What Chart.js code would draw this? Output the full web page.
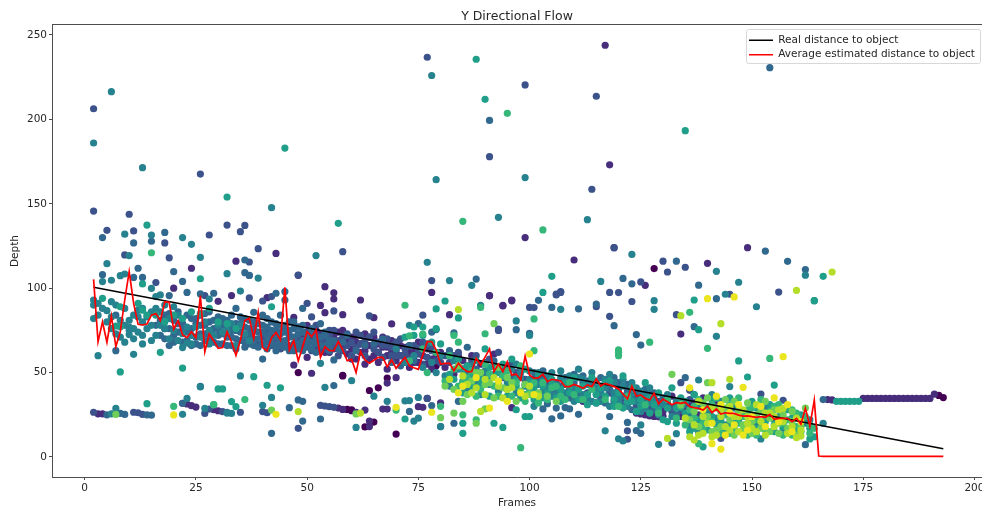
<!DOCTYPE html>
<html>
<head>
<meta charset="utf-8">
<style>
	html, body { margin: 0; padding: 0; background: #fff; }
	#chart { display: block; }
</style>
<script src="https://cdn.jsdelivr.net/npm/chart.js@4"></script>
</head>
<body>
<canvas id="chart" width="982" height="510"></canvas>
<script>
const real_frames = [2, 193];
const real_depth = [100.5, 4.9];

// average estimate for frames 2, 3, 4 ... 193
const first_est_frame = 2;
const est_depth = [
	105.2, 68.3, 80, 68, 83.5, 65.4, 74.2, 93, 109.8, 91, 78.6, 78.2, 78.8, 84, 85, 80.8, 92, 91.6, 75.8, 80.8,
	72.3, 70.7, 74.2, 70.7, 95.6, 62.4, 72.9, 68.9, 64.4, 64.8, 74.2, 68.3, 60.2, 69.3, 80.8, 82.2, 70.3, 85.7, 64.8, 62.8,
	70.7, 73.8, 69.3, 100.5, 63.4, 68.9, 56.9, 65.4, 74.2, 71.3, 75.2, 59, 65.4, 63, 63, 68.3, 63.4, 57, 57.8, 50,
	62.4, 57.5, 55.5, 57.3, 59, 59, 53.5, 57.5, 52.5, 55.9, 59, 54, 52.9, 51.9, 60.4, 68.3, 68.3, 63.4, 55, 55.5,
	55.5, 51, 55.5, 52.5, 50.6, 50.6, 58.5, 54.5, 59.2, 64, 50.6, 55, 50.6, 56.5, 48.6, 49, 45.6, 59.8, 48.6, 46.6,
	47, 49, 44.6, 46, 45.6, 45, 41.7, 41.7, 43, 42, 40.7, 42.7, 41.7, 46.2, 42, 43.6, 42.7, 41.7, 40.3, 37.3,
	34.4, 42, 36, 36.7, 34.7, 33.7, 37.7, 31.4, 34.3, 32.7, 31, 32.2, 31.8, 32.4, 29.8, 29.2, 28.8, 27.8, 30.2, 26.2,
	28.4, 25.4, 26.2, 25.8, 25.8, 24.8, 24.2, 24.4, 23.9, 23.5, 23.9, 23.5, 25.2, 22.3, 22.9, 22.9, 22.9, 20.9, 22.9, 19.5,
	28.8, 18.3, 33.7, 0.6, 0.4, 0.4, 0.4, 0.4, 0.4, 0.4, 0.4, 0.4, 0.4, 0.4, 0.4, 0.4, 0.4, 0.4, 0.4, 0.4,
	0.4, 0.4, 0.4, 0.4, 0.4, 0.4, 0.4, 0.4, 0.4, 0.4, 0.4, 0.4
];

// flow samples [frame, depth], one list per colour step of the map
const shade_0 = [
	[128,111.6],[48,50],[58,48.4],[58,48],[59,28.2],[60,28],[70,13.6],[63,17.8],[65,20.7],[68,46.8],[192,36.5],[193,35.2],
	[66,41],[64,39.4],[60,27.4],[79,54]
];
const shade_1 = [
	[117,243.9],[118,173.1],[99,130],[119,124],[110,116.7],[91,95.6],[96,93],[94,89.9],[78,97.5],[82,84.3],[134,72.8],[140,114.7],
	[149,124],[126,101.7],[43,120.6],[34,116],[24,111.8],[48,107.6],[20,100],[54,100.9],[56,97.3],[56,93.6],[33,95.6],[41,94.4],
	[30,92.2],[53,89.8],[54,85.5],[58,84.3],[47,82.7],[47,54.5],[51,49.6],[50,59],[3,25.6],[4,25.6],[22,31.8],[23,31.4],[24,30.4],
	[25,29.6],[29,28],[30,27.4],[57,29],[58,28.2],[63,27.8],[64,21.3],[64,18],[67,28.4],[68,28.4],[75,29.8],[76,29.4],[80,32],
	[77,34.7],[62,93],[91,95.5],[94,89.5],[96,92.5],[65,82.5],[69,78.8],[70,47],[66,62],[68,43.8],[61,26.5],[96,29.2],[124,26],
	[126,25],[127,24.3],[128,24],[130,24.2],[125,25.5],[129,23.8],[191,37.2],[175,34.7],[176,34.7],[177,34.7],[178,34.7],[179,34.7],[180,34.7],
	[181,34.7],[182,34.7],[183,34.7],[184,34.7],[185,34.7],[186,34.7],[187,34.7],[188,34.7],[189,34.7],[190,34.7],[167,34],[168,33.8],
	[50,78],[52,66],[53,73],[54,62],[55,70],[56,64],[57,74],[58,66],[59,61],[60,71],[60,64],[61,58],[61,68],[62,62],[63,73],[63,55],
	[64,66],[65,60],[65,71],[66,56],[67,65],[68,60],[68,52],[69,69],[70,63],[70,57],[71,66],[72,59],[73,53],[74,62],[75,68],[75,56],
	[76,60],[77,64],[78,52],[78,58],[80,62],[81,53],[83,49],[85,57],[87,60],[89,55],[92,61],[133,32],[135,27],[137,32],[139,35],[142,31],
	[128,33],[130,27],[132,36],[127,30],[110,35],[112,33],[108,36],
	[49,72],[51,70],[52,75],[54,68],[55,62],[56,72],[57,67],[58,75],[59,69],[60,58],[61,72],[62,67],[63,63],[64,58],[64,71],[66,67],[67,59],[67,71],
	[68,65],[69,62],[71,60],[72,65],[73,62],[74,56],[76,65],[77,55],[79,60],[84,60],[134,24],[136,30],[138,25],[140,28]
];
const shade_2 = [
	[77,236.8],[99,220.4],[115,213.7],[91,177.9],[114,158.6],[2,206.3],[26,167.6],[10,143.8],[2,145.7],[11,133.9],[5,134.3],[28,131.5],
	[32,137.4],[36,137.2],[35,133.5],[18,126.8],[39,123.4],[9,119.7],[19,118],[58,121.6],[37,115.5],[48,107.8],[37,107.5],[16,103.3],
	[27,95.6],[37,94.2],[40,92.4],[42,95],[56,86.5],[51,83],[50,91],[2,26.5],[11,26.5],[12,26.2],[13,25.2],[27,25.8],[28,28.4],[31,26.9],
	[35,26.5],[40,26.9],[41,26.2],[48,17],[53,30.6],[54,30.2],[55,29.8],[56,29.4],[78,104.5],[77,34.7],[93,75.8],[106,96.5],[107,98],
	[118,97.5],[100,88.6],[118,83.3],[119,124],[120,97.4],[123,92.1],[125,103.7],[130,116],[131,109.6],[135,112.4],[133,84.3],[145,96.4],
	[156,97.7],[120,37],[122,15.5],[122,10.5],[101,88.5],[106,96],[107,97.5],[115,89],[64,83.6],[76,84],[136,39.5],[152,37.3],[157,33.6],
	[143,11],[134,44],[93,75],[100,73],[69,66],
	[38,76],[40,71],[42,66],[44,74],[46,66],[48,70],[50,66],[52,72],[53,63],[54,69],[55,75],[56,66],[57,60],[58,71],[59,66],[60,60],
	[61,74],[62,67],[63,60],[64,71],[65,64],[66,68],[67,59],[68,66],[69,60],[70,68],[71,60],[72,64],[73,58],[74,66],[75,61],[76,55],
	[77,59],[78,63],[79,57],[81,60],[82,56],[84,62],[86,54],[88,60],[90,56],[93,62],[95,54],[97,50],[101,46],[104,43],[107,42],
	[110,39],[113,38],[116,35],[119,33],[122,36],[125,30],[127,28],[131,32],[134,28],[136,34],
	[39,69],[41,76],[43,70],[44,64],[45,77],[46,72],[47,64],[48,77],[49,66],[50,74],[51,63],[52,78],[53,68],[54,64],[55,72],[56,75],[57,69],[58,63],[59,73],
	[60,68],[61,65],[62,72],[63,69],[65,74],[66,62],[67,66],[68,70],[69,65],[70,60],[71,70],[72,61],[73,66],[74,59],[75,64],[76,68],[78,66],[80,56],[83,60],
	[85,52],[87,57],[89,50],[91,58],[94,47],[96,55],[99,46],[103,47],[106,38],[109,40],[112,44],[115,32],[118,38],[121,34],[124,31],[126,36],[129,33],[132,27],[135,24]
];
const shade_3 = [
	[154,230.6],[91,199.4],[15,127.8],[11,126.8],[18,133],[4,130],[12,111.8],[20,109.8],[36,116.7],[36,109.2],[37,107.6],[4,108],[11,106.4],
	[13,106.4],[22,104],[23,97.5],[26,96.6],[29,97],[19,95.6],[43,97],[45,98],[45,93],[34,88],[38,85.7],[49,88],[44,84],[7,84],[7,63],[40,58],
	[56,57.5],[26,41.9],[56,42.3],[22,31.8],[5,25],[8,25.8],[9,25.2],[14,25],[15,24.8],[32,26.5],[46,29.2],[48,33.8],[49,33],[49,21.3],[42,14],
	[53,22.5],[88,105.4],[102,92.8],[105,88.6],[111,87.8],[115,90.6],[119,77.8],[97,75.4],[100,73.2],[83,73.5],[78,74],[75,79],[79,75.5],
	[133,116],[153,122],[158,115.9],[162,111],[121,105.8],[123,102.6],[138,101.8],[142,93.8],[124,72.5],[125,66.3],[137,77.2],[78,30.5],[80,18],
	[83,20],[73,27],[84,33],[103,28.5],[104,31.6],[105,22.6],[106,29],[107,24.3],[108,29.3],[109,28.5],[111,25.3],[118,24],[122,20.5],[124,15.7],
	[132,8.3],[125,14],[162,7.3],[166,34],[135,47],[85,52],
	[16,78],[17,72],[18,84],[18,70],[19,76],[20,81],[20,68],[21,74],[22,79],[23,84],[23,69],[24,76],[25,82],[25,71],[26,78],[26,66],[27,85],
	[27,73],[28,80],[28,69],[29,76],[30,83],[30,72],[31,78],[31,67],[32,81],[32,71],[33,75],[33,66],[34,79],[34,70],[35,83],[35,74],[36,77],
	[36,68],[37,81],[37,72],[38,75],[38,66],[39,79],[39,70],[40,84],[40,74],[41,77],[41,68],[42,80],[42,71],[43,75],[43,66],[44,78],[44,69],
	[45,74],[45,65],[46,80],[46,71],[47,76],[47,67],[48,73],[48,64],[49,78],[49,69],[50,72],[50,65],[51,76],[51,68],[52,70],[53,79],[54,74],
	[55,66],[57,67],[59,72],[61,63],[63,66],[65,67],[67,70],[69,56],[71,54],[73,66],[74,57],[77,67],[79,62],[82,63],[84,58],[86,65],[88,52],
	[90,49],[92,57],[94,52],[96,47],[98,53],[100,41],[102,46],[103,51],[105,40],[106,44],[108,47],[109,35],[110,44],[111,38],[112,48],[113,34],
	[114,42],[115,37],[116,47],[117,32],[118,40],[119,36],[120,44],[121,31],[122,39],[123,28],[124,35],[126,33],[127,37],[128,28],[129,30],
	[130,35],[132,29],[133,25],[135,31],[137,24],
	[17,81],[18,76],[19,85],[19,66],[20,72],[21,79],[21,86],[22,68],[22,75],[23,74],[24,82],[24,66],[25,67],[25,79],[26,73],[26,84],[27,69],[27,78],[28,72],[28,86],
	[29,68],[29,81],[30,67],[30,76],[31,73],[31,82],[32,66],[32,76],[33,71],[33,84],[34,64],[34,75],[35,69],[35,79],[36,65],[36,72],[36,82],[37,67],[37,76],[38,70],
	[38,80],[39,65],[39,74],[40,67],[40,78],[41,64],[41,72],[41,82],[42,67],[42,75],[43,63],[43,71],[43,79],[44,66],[44,73],[45,69],[45,78],[46,63],[46,75],[47,71],
	[47,63],[47,80],[48,67],[48,77],[49,63],[49,74],[50,69],[51,64],[51,73],[52,67],[52,62],[53,71],[53,66],[54,66],[54,72],[55,69],[55,63],[56,69],[57,64],[58,68],
	[101,50],[104,47],[107,37],[110,49],[113,45],[116,42],[119,47],[120,40],[121,36],[122,43],[124,38],[125,33],[126,40],[127,34],[128,38]
];
const shade_4 = [
	[78,226],[99,165.5],[79,164.3],[6,216.4],[2,186],[13,171.4],[42,147.7],[15,131.5],[9,132],[22,130],[24,126],[10,119.3],[26,118.3],[52,119.3],
	[5,114.5],[32,108.6],[8,107.4],[9,108.4],[39,106],[4,103.9],[6,104.7],[15,99.9],[35,98.3],[28,93.6],[16,95],[17,96],[2,93],[2,90],[6,92],
	[5,86.7],[9,88],[3,60],[11,60.8],[13,67],[22,64.8],[23,67.5],[24,67],[28,67],[53,55.5],[35,48],[26,41.5],[54,41.3],[60,45.2],[6,25.6],[7,28.8],
	[22,25.3],[23,34.7],[27,28.8],[33,25.8],[32,26],[40,30.6],[42,35.3],[61,17.5],[73,33.4],[75,35.3],[72,33.2],[93,142],[113,140.6],[77,115.3],
	[116,104],[87,101.7],[82,104.5],[107,87.5],[89,89.9],[97,80.6],[73,78],[100,72],[123,120],[142,110],[162,107.7],[147,103.5],[128,92.6],[128,87.5],
	[151,89],[142,71.5],[144,96.4],[164,92.6],[166,20],[152,10.7],[129,7.5],[133,13.8],[125,19],[138,14.6],[136,18.4],[145,41.7],[138,45.6],[80,18],
	[74,21.3],[75,23],[120,10.8],[121,9.5],[117,15.5],[99,42],[101,30],[88,44],[97,55],[91,47],[86,50],[68,33],[65,36],
	[10,81],[10,77],[10,75],[10,72.5],[11,84],[12,87],[12,83],[13,80],[14,83],[15,78],[16,72],[17,78],[18,76],[19,70],[20,75],[21,69],[22,73],
	[23,77],[24,72],[25,77],[26,71],[27,80],[28,75],[29,72],[30,78],[31,74],[32,75],[33,79],[34,66],[35,78],[36,73],[37,69],[70,64],[72,56],[74,60],
	[76,53],[78,56],[79,50],[80,60],[81,48],[82,42],[83,57],[84,52],[85,45],[86,40],[87,54],[88,48],[89,37],[90,51],[91,43],[92,54],[93,39],[94,48],
	[95,44],[96,52],[97,38],[98,47],[99,43],[100,51],[101,37],[102,43],[103,39],[104,48],[105,36],[106,41],[107,47],[108,38],[109,44],[110,33],[111,47],
	[112,37],[113,43],[114,33],[115,45],[116,38],[117,41],[118,30],[119,44],[120,35],[121,42],[122,30],[123,37],[124,41],[125,27],[126,37],[127,32],
	[128,36],[129,25],[130,31],[131,37],[132,24],[133,33],[134,29],[136,26],[137,37],[138,30],[139,20],[140,27],[141,37],[142,23],[143,33],[144,19],
	[146,29],[147,21],[149,27],[151,19],[153,29],[155,22],[157,17],[159,16],[162,20],[163,22],
	[2,82],[3,84],[3,91],[4,88],[5,80],[6,83],[6,76],[7,90],[7,73],[8,81],[8,71],[9,78],[9,68],[11,76],[11,70],[12,74],[13,88],[13,72],[14,76],[15,86],[15,69],[16,88],
	[17,86],[18,90],[19,82],[20,89],[21,84],[98,50],[100,46],[102,50],[103,45],[104,41],[105,50],[106,37],[107,51],[108,43],[109,48],[110,40],[111,52],[112,46],[113,35],
	[114,50],[115,41],[116,33],[117,46],[118,49],[119,38],[120,32],[121,46],[122,34],[123,44],[124,33],[125,39],[126,29],[127,41],[128,33]
];
const shade_5 = [
	[88,235.6],[90,211.9],[135,193.3],[45,183],[32,154],[14,137.4],[57,138.4],[13,102.5],[26,105.6],[4,94],[8,89],[42,89],[7,77.6],[8,77.2],[17,62],
	[8,50.4],[22,52.7],[38,47.6],[30,40.3],[31,40.3],[41,42.5],[44,41],[34,29.8],[33,32.8],[14,31.6],[29,31],[105,107],[103,97.5],[81,92.4],[79,87.7],
	[84,82.4],[76,77],[79,76],[74,77],[137,93],[166,107],[164,92.6],[138,75.4],[147,56.9],[149,47.4],[155,42.6],[72,22.5],[85,20],[85,14],[92,20],[94,17.5],
	[97,28],[99,24],[100,24],[139,6],[163,10.7],[164,12],[169,33],[170,33],[171,33],[172,33],[173,33],[174,33],
	[12,91],[13,87],[14,84],[16,84],[18,80],[20,84],[22,82],[24,86],[26,85],[28,88],[30,80],[32,79],[34,76],[72,71],[74,72],[76,72],[78,68],[80,67],
	[82,49],[83,46],[84,58],[85,38],[86,54],[87,42],[88,57],[89,47],[90,64],[91,36],[92,49],[93,44],[94,55],[95,40],[96,58],[97,46],[98,35],[99,52],
	[100,44],[101,34],[102,49],[103,42],[104,38],[105,46],[106,35],[107,40],[108,44],[109,38],[110,47],[111,34],[112,42],[113,37],[114,47],[115,32],
	[116,41],[117,36],[118,45],[119,30],[120,38],[121,48],[122,33],[123,41],[124,27],[125,34],[126,44],[127,26],[128,31],[129,38],[130,22],[131,29],
	[132,41],[133,20],[134,35],[135,26],[136,15],[137,37],[138,22],[139,29],[140,16],[141,34],[142,19],[143,27],[144,15],[145,35],[146,22],[147,30],
	[148,14],[149,25],[150,33],[151,17],[152,27],[153,21],[154,31],[155,15],[156,24],[157,18],[158,28],[159,23],[160,16],[161,25],[163,17],
	[85,52],[87,48],[89,43],[91,53],[93,50],[95,36],[97,42],[99,37],[101,41],[103,35],[105,43],[107,33],[109,42],[111,40],[113,31],[115,37],[117,44],
	[119,34],[121,29],[123,33],[125,30],[127,35],[129,28],[131,21],[133,29],[135,33],[137,17],[139,25],[141,24],[143,22],[145,18],[147,25],[149,20],[151,29]
];
const shade_6 = [
	[85,139.6],[95,203.6],[103,134.5],[36,34],[72,89.9],[89,88.6],[73,71.8],[76,72.8],[90,73],[101,81.8],[120,63.4],[127,68],[136,85.7],[140,64.4],
	[154,58.4],[20,30],[29,31],[15,121],[88,22],[70,27.8],[98,5.5],[120,60],[138,7.9],[120,62],[101,63],[80,30],[85,25],[73,57],[76,64],[79,62],[83,72],
	[82,60],[84,68],
	[77,50],[81,45],[84,42],[86,47],[88,36],[90,55],[92,42],[94,48],[96,36],[98,54],[100,39],[102,32],[103,44],[105,41],[107,36],[109,44],[112,34],[114,40],
	[117,34],[120,30],[122,36],[126,31],[129,26],[131,34],[133,23],[134,30],[135,19],[136,28],[137,23],[138,34],[139,16],[140,30],[141,21],[142,35],[143,14],
	[144,25],[145,31],[146,17],[147,35],[148,24],[149,13],[150,29],[151,22],[152,34],[153,16],[154,27],[155,19],[156,31],[157,13],[158,22],[159,28],[160,18],
	[161,15],[162,24],[163,19],[164,17],[163,14],
	[83,52],[85,44],[87,51],[89,40],[91,49],[93,36],[95,51],[97,44],[99,33],[101,44],[104,34],[106,42],[108,34],[110,37],[137,30],[139,20],[141,31],[143,18],
	[145,14],[147,20],[149,28],[151,13],[153,24],[155,30],[157,20],[159,13],[160,26]
];
const shade_7 = [
	[7,25.2],[42,27.8],[61,25.5],[92,79],[80,23.3],[83,26],[90,28.5],[88,20],[140,44],[132,49],[159,27],
	[81,42],[84,54],[85,33],[87,45],[88,50],[90,43],[92,35],[93,53],[95,47],[97,33],[99,43],[102,38],[104,36],[106,33],[134,31],[136,22],[138,18],[139,32],
	[140,24],[141,15],[142,29],[143,18],[144,34],[145,22],[146,13],[147,27],[148,19],[149,32],[150,14],[151,25],[152,17],[153,33],[154,23],[155,28],[156,14],
	[157,25],[158,17],[159,21],[160,13],[161,18],[162,29],
	[83,40],[86,37],[89,50],[91,44],[94,41],[96,44],[98,39],[100,37],[137,27],[140,35],[142,16],[144,29],[146,33],[148,16],[150,21],[152,28],[154,15],[156,20]
];
const shade_8 = [
	[84,87.3],[134,83.7],[143,79],[160,98.7],[168,109.6],[62,26],[89,27],[48,26.9],[145,46],[131,11],[137,10],[141,44],[161,12.4],[157,28.8],[160,11.4],
	[82,46],[85,48],[87,38],[90,37],[92,47],[95,40],[99,36],[102,36],[135,23],[138,33],[139,14],[140,20],[141,29],[142,13],[143,24],[144,18],[145,30],[146,24],
	[147,15],[148,28],[149,20],[150,17],[151,31],[152,21],[153,13],[154,26],[155,18],[156,28],[157,21],[158,14],[159,18],[160,23],[161,16],
	[86,43],[88,41],[90,46],[93,42],[94,35],[96,41],[100,42],[136,12],[137,19],[138,13],[139,24],[141,12],[143,28],[145,16],[147,24],[149,24],[151,15],[153,26],[155,24]
];
const shade_9 = [
	[20,24.9],[43,25.3],[70,29.4],[84,38],[91,28.9],[140,93.8],[146,94.8],[157,59.4],[148,41.3],[141,7.9],[143,4.7],[136,41],[100,61],[78,26.5],
	[85,42],[88,47],[93,45],[95,33],[98,38],[101,37],[139,28],[141,20],[142,36],[144,13],[146,19],[147,31],[148,13],[150,24],[152,30],[153,18],[155,35],
	[156,21],[158,31],[159,15],[161,21],[145,26],[149,16],[143,31]
];

const shade_colors = ['#440154', '#472d7b', '#3b528b', '#31688e', '#26828e', '#1f9e89', '#35b779', '#6ece58', '#b5de2b', '#ebe51e'];
const shades = [shade_0, shade_1, shade_2, shade_3, shade_4, shade_5, shade_6, shade_7, shade_8, shade_9];

const text_color = '#262626';
const spine_color = '#4d4d4d';
const plot_right = 982;
const legend_left = 745;
const legend_top = 31;

// legend box, top spine, and the axes run to the canvas edge like the original
const frame_plugin = {
	id: 'frame',
	afterLayout(chart) {
		const area = chart.chartArea;
		const x_scale = chart.scales.x;
		area.right = plot_right;
		area.width = plot_right - area.left;
		x_scale.right = plot_right;
		x_scale.width = area.width;
		x_scale.configure();
		x_scale._labelItems = null;
		x_scale._gridLineItems = null;
		chart.titleBlock.right = plot_right;
		chart.titleBlock.width = area.width;
		chart.legend.left = legend_left;
		chart.legend.top = legend_top;
	},
	beforeDraw(chart) {
		const ctx = chart.ctx;
		ctx.save();
		ctx.strokeStyle = '#d8d8d8';
		ctx.lineWidth = 1;
		ctx.beginPath();
		ctx.roundRect(746.5, 29.5, 234, 34, 2);
		ctx.stroke();
		ctx.restore();
	},
	afterDraw(chart) {
		const ctx = chart.ctx;
		const area = chart.chartArea;
		ctx.save();
		ctx.strokeStyle = spine_color;
		ctx.lineWidth = 1;
		ctx.beginPath();
		ctx.moveTo(area.left, area.top - 0.5);
		ctx.lineTo(area.right, area.top - 0.5);
		ctx.stroke();
		ctx.restore();
	}
};

const line_datasets = [
	{
		label: 'Real distance to object',
		data: real_frames.map((f, i) => [f, real_depth[i]]),
		showLine: true,
		pointRadius: 0,
		borderColor: '#000000',
		backgroundColor: '#000000',
		borderWidth: 1.6,
		order: 1
	},
	{
		label: 'Average estimated distance to object',
		data: est_depth.map((d, i) => [first_est_frame + i, d]),
		showLine: true,
		pointRadius: 0,
		borderColor: '#ff0000',
		backgroundColor: '#ff0000',
		borderWidth: 1.7,
		order: 0
	}
];

const point_datasets = shades.map((pts, i) => ({
	label: 'shade ' + i,
	data: pts,
	showLine: false,
	pointRadius: 3.6,
	pointHoverRadius: 3.6,
	pointBorderWidth: 0,
	backgroundColor: shade_colors[i],
	order: 12 - i
}));

const axis_ticks = { color: text_color, font: { family: 'DejaVu Sans', size: 10.5 }, padding: 2 };
const axis_grid = { drawOnChartArea: false, drawTicks: true, tickLength: 3, tickColor: spine_color };

new Chart(document.getElementById('chart'), {
	type: 'scatter',
	data: { datasets: line_datasets.concat(point_datasets) },
	options: {
		responsive: false,
		animation: false,
		layout: { padding: 0 },
		plugins: {
			tooltip: { enabled: false },
			title: {
				display: true,
				fullSize: false,
				text: 'Y Directional Flow',
				color: text_color,
				font: { family: 'DejaVu Sans', size: 12.5, weight: 'normal', lineHeight: 1.2 },
				padding: { top: 9, bottom: 1 }
			},
			legend: {
				position: 'chartArea',
				align: 'start',
				labels: {
					color: text_color,
					font: { family: 'DejaVu Sans', size: 10.5 },
					usePointStyle: true,
					pointStyle: 'line',
					pointStyleWidth: 24,
					padding: 4,
					filter: (item) => item.datasetIndex < 2,
					sort: (a, b) => a.datasetIndex - b.datasetIndex
				}
			}
		},
		scales: {
			x: {
				type: 'linear',
				min: -7.35,
				max: 201.7,
				afterFit(scale) { scale.height = 33; },
				ticks: { ...axis_ticks, stepSize: 25, includeBounds: false, maxRotation: 0 },
				grid: axis_grid,
				border: { color: spine_color },
				title: { display: true, text: 'Frames', color: text_color, font: { family: 'DejaVu Sans', size: 10.5 }, padding: 0 }
			},
			y: {
				min: -11.85,
				max: 255.9,
				afterFit(scale) { scale.width = 52; },
				ticks: { ...axis_ticks, stepSize: 50, includeBounds: false },
				grid: axis_grid,
				border: { color: spine_color },
				title: { display: true, text: 'Depth', color: text_color, font: { family: 'DejaVu Sans', size: 10.5 }, padding: { top: 9, bottom: 0 } }
			}
		}
	},
	plugins: [frame_plugin]
});
</script>
</body>
</html>
